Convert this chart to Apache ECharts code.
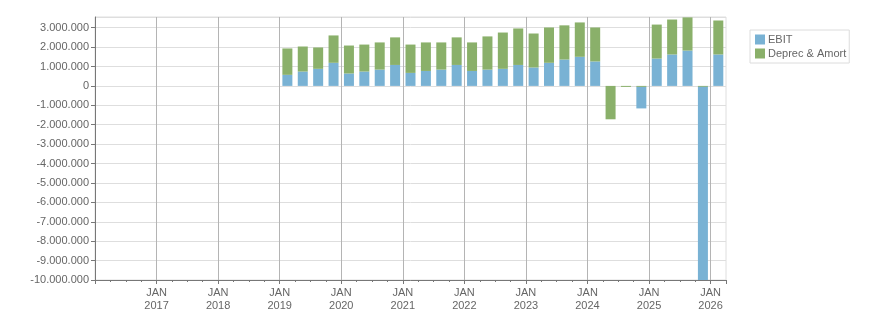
<!DOCTYPE html>
<html>
<head>
<meta charset="UTF-8">
<title>EBIT / Deprec & Amort</title>
<style>
  * { margin: 0; padding: 0; }
  html, body { width: 876px; height: 313px; background: #fff; }
  #chart { width: 876px; height: 313px; }
</style>
</head>
<body>
<div id="chart"></div>
<script src="https://cdn.jsdelivr.net/npm/echarts@6/dist/echarts.min.js"></script>
<script>
// quarters with data, EBIT and D&A per quarter
var quarters = [
  '2019Q1','2019Q2','2019Q3','2019Q4',
  '2020Q1','2020Q2','2020Q3','2020Q4',
  '2021Q1','2021Q2','2021Q3','2021Q4',
  '2022Q1','2022Q2','2022Q3','2022Q4',
  '2023Q1','2023Q2','2023Q3','2023Q4',
  '2024Q1','2024Q2','2024Q3','2024Q4',
  '2025Q1','2025Q2','2025Q3','2025Q4',
  '2026Q1'
];
var ebit = [
  570000, 740000, 880000, 1190000,
  640000, 740000, 840000, 1080000,
  670000, 770000, 840000, 1080000,
  770000, 840000, 880000, 1080000,
  950000, 1190000, 1360000, 1500000,
  1260000, 0, 0, -1110000,
  1410000, 1620000, 1820000, -9950000,
  1620000
];
var deprec = [
  1360000, 1290000, 1100000, 1410000,
  1440000, 1390000, 1400000, 1420000,
  1460000, 1470000, 1400000, 1420000,
  1470000, 1710000, 1870000, 1880000,
  1750000, 1820000, 1760000, 1770000,
  1750000, -1720000, -50000, -50000,
  1750000, 1800000, 1710000, -50000,
  1750000
];
// axis runs Jan 2016 .. Apr 2026, one slot per quarter
var startYear = 2016, endYear = 2026;
var yMin = -10000000, yMax = 3550000, yStep = 1000000;

var slots = [];
for (var y = startYear; y <= endYear; y++) {
  for (var q = 1; q <= 4; q++) {
    if (y === endYear && q > 1) break;
    slots.push(y + 'Q' + q);
  }
}
function part(arr, sign) {
  return slots.map(function (s) {
    var i = quarters.indexOf(s);
    if (i < 0) return '-';
    var v = arr[i];
    return (sign > 0 ? v >= 0 : v < 0) ? v : 0;
  });
}
function dots(v) {
  var s = Math.abs(v).toString().replace(/\B(?=(\d{3})+(?!\d))/g, '.');
  return (v < 0 ? '-' : '') + s;
}

var blue = '#79b2d4', green = '#8ab06a';
var chart = echarts.init(document.getElementById('chart'));

function bars(name, color, arr, sign) {
  return {
    name: name, type: 'bar', stack: 'all', xAxisIndex: 1,
    barWidth: 10, itemStyle: { color: color },
    data: part(arr, sign)
  };
}

chart.setOption({
  animation: false,
  textStyle: { fontFamily: 'Liberation Sans, Arial, sans-serif' },
  grid: {
    left: 95, right: 150, top: 17, bottom: 33,
    show: true, borderColor: '#dedede', borderWidth: 1
  },
  legend: {
    orient: 'vertical',
    left: 750, top: 30,
    padding: [4, 3, 4, 5],
    itemWidth: 10, itemHeight: 10, itemGap: 3,
    borderColor: '#dcdcdc', borderWidth: 1,
    icon: 'rect',
    textStyle: { fontSize: 11, color: '#666', padding: [0, 0, 0, -2] },
    data: ['EBIT', 'Deprec & Amort']
  },
  xAxis: [{
    type: 'value',
    min: 0, max: slots.length, interval: 4,
    axisLine: { show: true, onZero: false, lineStyle: { color: '#777' } },
    axisTick: { show: true, length: 4, lineStyle: { color: '#777' } },
    minorTick: { show: true, splitNumber: 4, length: 2, lineStyle: { color: '#777' } },
    splitLine: { show: true, showMinLine: false, showMaxLine: false, lineStyle: { color: '#b4b4b4' } },
    axisLabel: {
      showMinLabel: false, showMaxLabel: false,
      color: '#666', fontSize: 11, lineHeight: 13, margin: 6,
      formatter: function (v) { return 'JAN\n' + (startYear + v / 4); }
    }
  }, {
    type: 'category', data: slots, show: false,
    axisLine: { onZero: false }
  }],
  yAxis: {
    type: 'value',
    min: yMin, max: yMax, interval: yStep,
    axisLine: { show: true, lineStyle: { color: '#777' } },
    axisTick: { show: true, length: 4, lineStyle: { color: '#777' } },
    splitLine: { show: true, lineStyle: { color: '#dedede' } },
    axisLabel: {
      showMaxLabel: false,
      color: '#666', fontSize: 11, margin: 6,
      formatter: function (v) { return dots(v); }
    }
  },
  series: [
    bars('EBIT', blue, ebit, 1),
    bars('Deprec & Amort', green, deprec, 1),
    bars('Deprec & Amort', green, deprec, -1),
    bars('EBIT', blue, ebit, -1)
  ]
});
</script>
</body>
</html>
